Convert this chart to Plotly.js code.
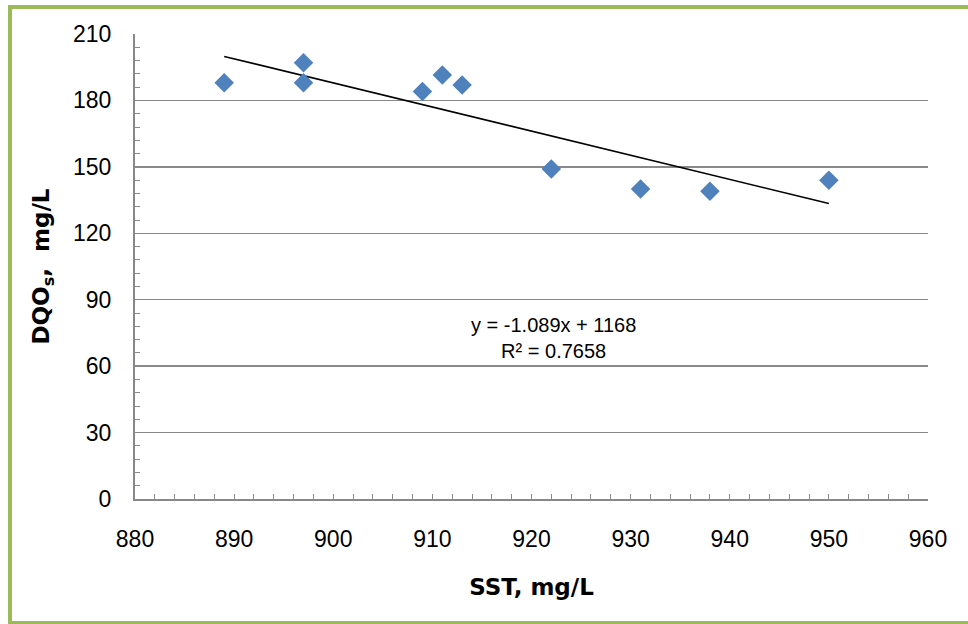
<!DOCTYPE html>
<html>
<head>
<meta charset="utf-8">
<script src="https://cdn.plot.ly/plotly-3.0.1.min.js"></script>
<style>
html,body{margin:0;padding:0;background:#fff;}
#frame{position:absolute;left:8px;top:5px;width:980px;height:612px;border-left:4px solid #9BBB59;border-top:4px solid #9BBB59;border-bottom:4px solid #9BBB59;}
#chart{position:absolute;left:0;top:0;width:968px;height:624px;}
</style>
</head>
<body>
<div id="frame"></div>
<div id="chart"></div>
<script>
// Data
const sst = [889, 897, 897, 909, 911, 913, 922, 931, 938, 950];
const dqo = [188, 197, 188, 184, 191.5, 187, 149, 140, 139, 144];
// Linear trendline as printed on the chart
const trendSlope = -1.089;
const trendIntercept = 1168;
const trendRange = [889, 950];
const trendLabel = ["y = -1.089x + 1168", "R² = 0.7658"];
const xTicks = [880, 890, 900, 910, 920, 930, 940, 950, 960];
const yTicks = [0, 30, 60, 90, 120, 150, 180, 210];

const trendY = trendRange.map(x => trendSlope * x + trendIntercept);

const gray = '#898989';
const tickFont = {family: '"Liberation Sans Narrow", sans-serif', size: 23, color: '#000'};
const titleFont = {family: '"DejaVu Sans", sans-serif', size: 23, color: '#000', weight: 'bold'};

const data = [
  {
    x: trendRange, y: trendY, mode: 'lines', type: 'scatter',
    line: {color: '#000', width: 1.6}, hoverinfo: 'skip', showlegend: false
  },
  {
    x: sst, y: dqo, mode: 'markers', type: 'scatter',
    marker: {symbol: 'diamond', size: 15, color: '#4F81BD', line: {width: 0}},
    showlegend: false
  }
];

const layout = {
  width: 968, height: 624,
  margin: {l: 135, r: 40, t: 34, b: 125},
  paper_bgcolor: 'rgba(0,0,0,0)',
  plot_bgcolor: 'rgba(0,0,0,0)',
  showlegend: false,
  xaxis: {
    range: [880, 960], tickvals: xTicks, ticktext: xTicks.map(String),
    showgrid: false, zeroline: false,
    showline: true, linecolor: gray, linewidth: 2,
    ticks: 'inside', ticklen: 5, tickcolor: gray, tickwidth: 1,
    minor: {dtick: 2, tick0: 880, ticks: 'inside', ticklen: 5, tickcolor: gray, tickwidth: 1, showgrid: false},
    tickfont: tickFont, ticklabelstandoff: 18,
    title: {text: 'SST, mg/L', font: titleFont, standoff: 28}
  },
  yaxis: {
    range: [0, 210], tickvals: yTicks, ticktext: yTicks.map(String),
    showgrid: true, gridcolor: gray, gridwidth: 1.5, zeroline: false,
    showline: true, linecolor: gray, linewidth: 2,
    ticks: 'inside', ticklen: 5, tickcolor: gray, tickwidth: 1,
    minor: {dtick: 6, tick0: 0, ticks: 'inside', ticklen: 5, tickcolor: gray, tickwidth: 1, showgrid: false},
    tickfont: tickFont, ticklabelstandoff: 17,
    title: {text: 'DQO<sub>s</sub>,  mg/L', font: titleFont, standoff: 17}
  },
  annotations: [{
    x: 922.2, y: 72.8, xref: 'x', yref: 'y',
    text: trendLabel.join('<br>'), showarrow: false, align: 'center',
    font: {family: '"Liberation Sans Narrow", sans-serif', size: 20, color: '#000'}
  }]
};

Plotly.newPlot('chart', data, layout, {displayModeBar: false, staticPlot: true});
</script>
</body>
</html>
